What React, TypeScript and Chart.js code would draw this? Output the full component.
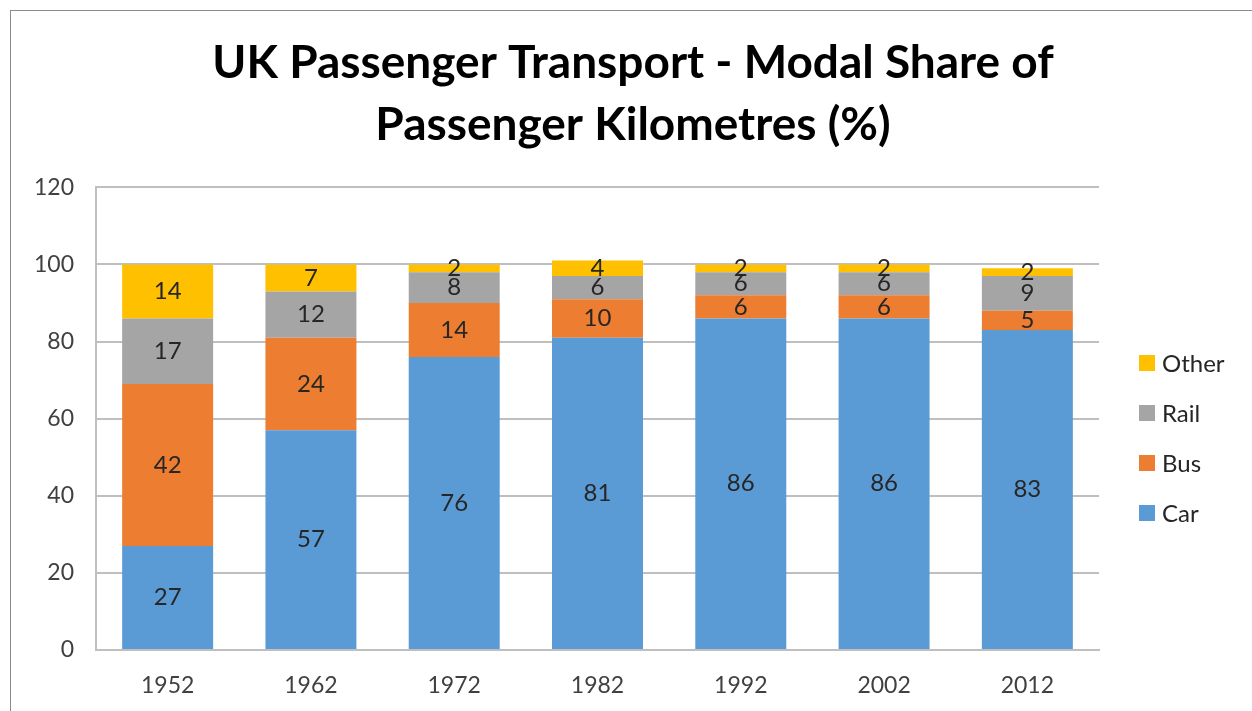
import React, { useEffect, useRef } from "react";
import { Chart, registerables } from "chart.js";

Chart.register(...registerables);

const years = ["1952", "1962", "1972", "1982", "1992", "2002", "2012"];
const car = [27, 57, 76, 81, 86, 86, 83];
const bus = [42, 24, 14, 10, 6, 6, 5];
const rail = [17, 12, 8, 6, 6, 6, 9];
const other = [14, 7, 2, 4, 2, 2, 2];
const yTicks = [0, 20, 40, 60, 80, 100, 120];

const FONT = "Lato, 'Open Sans', sans-serif";

const valueLabels = {
  id: "valueLabels",
  afterDatasetsDraw(chart: any) {
    const ctx = chart.ctx;
    ctx.save();
    ctx.font = `24px ${FONT}`;
    ctx.fillStyle = "#262626";
    ctx.textAlign = "center";
    ctx.textBaseline = "middle";
    chart.data.datasets.forEach((ds: any, i: number) => {
      const meta = chart.getDatasetMeta(i);
      meta.data.forEach((el: any, j: number) => {
        const v = ds.data[j];
        ctx.fillText(String(v), el.x, (el.y + el.base) / 2);
      });
    });
    ctx.restore();
  },
};

const sideLegend = {
  id: "sideLegend",
  afterDraw(chart: any) {
    const ctx = chart.ctx;
    const x0 = chart.chartArea.right + 40;
    const yStart = 352;
    const gap = 50;
    const items = chart.data.datasets.map((d: any) => d).reverse();
    ctx.save();
    ctx.font = `24px ${FONT}`;
    ctx.textAlign = "left";
    ctx.textBaseline = "middle";
    items.forEach((ds: any, k: number) => {
      const y = yStart + k * gap;
      ctx.fillStyle = ds.backgroundColor;
      ctx.fillRect(x0, y - 8, 16, 16);
      ctx.fillStyle = "#262626";
      ctx.fillText(ds.label, x0 + 23, y + 1);
    });
    ctx.restore();
  },
};

export default function App() {
  const ref = useRef<HTMLCanvasElement>(null);
  useEffect(() => {
    if (!ref.current) return;
    const chart = new Chart(ref.current, {
      type: "bar",
      data: {
        labels: years,
        datasets: [
          { label: "Car", data: car, backgroundColor: "#5B9BD5" },
          { label: "Bus", data: bus, backgroundColor: "#ED7D31" },
          { label: "Rail", data: rail, backgroundColor: "#A5A5A5" },
          { label: "Other", data: other, backgroundColor: "#FFC000" },
        ],
      },
      options: {
        responsive: false,
        animation: false,
        layout: { padding: 0 },
        datasets: { bar: { categoryPercentage: 1, barPercentage: 0.635 } },
        plugins: {
          title: {
            display: true,
            text: ["UK Passenger Transport - Modal Share of", "Passenger Kilometres (%)"],
            color: "#000",
            font: { family: FONT, size: 46, weight: "bold", lineHeight: 1.33 },
            padding: { top: 22, bottom: 32 },
          },
          legend: { display: false },
          tooltip: { enabled: false },
        },
        scales: {
          x: {
            stacked: true,
            grid: { display: false, drawTicks: false },
            border: { color: "#BFBFBF", width: 2 },
            ticks: { color: "#404040", font: { family: FONT, size: 23 }, padding: 22 },
            afterFit: (s: any) => { s.height = 62; },
          },
          y: {
            stacked: true,
            min: 0,
            max: 120,
            afterBuildTicks: (s: any) => { s.ticks = yTicks.map((v) => ({ value: v })); },
            grid: { color: "#BFBFBF", lineWidth: 2, drawTicks: false },
            border: { color: "#BFBFBF", width: 2 },
            ticks: { color: "#404040", font: { family: FONT, size: 23 }, padding: 22 },
            afterFit: (s: any) => { s.width = 85; },
          },
          legendSpace: {
            type: "linear",
            position: "right",
            display: true,
            min: 0,
            max: 1,
            grid: { display: false, drawTicks: false },
            border: { display: false },
            ticks: { display: false },
            afterFit: (s: any) => { s.width = 156; },
          },
        },
      },
      plugins: [valueLabels, sideLegend],
    });
    return () => chart.destroy();
  }, []);
  return (
    <div
      style={{
        position: "fixed",
        left: 10,
        top: 10,
        width: 1300,
        height: 800,
        border: "1.5px solid #8c8c8c",
        background: "#fff",
        boxSizing: "border-box",
      }}
    >
      <canvas ref={ref} width={1244} height={701} style={{ display: "block" }} />
    </div>
  );
}
